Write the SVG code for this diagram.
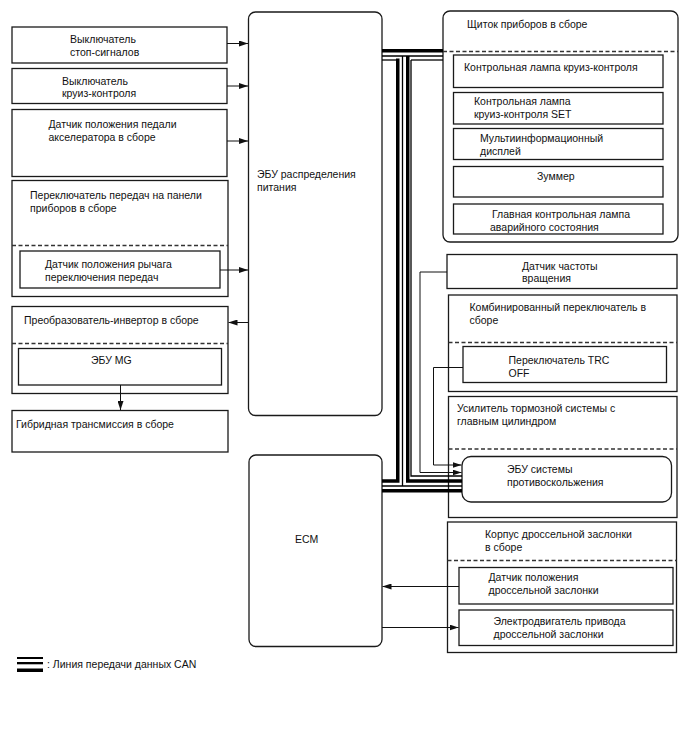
<svg xmlns="http://www.w3.org/2000/svg" width="688" height="755" viewBox="0 0 688 755">
<defs>
<marker id="ah" markerWidth="9" markerHeight="6" refX="9" refY="3" orient="auto" markerUnits="userSpaceOnUse">
<path d="M0,0 L9,3 L0,6 Z" fill="#111"/>
</marker>
<style>
.b{fill:#fff;stroke:#1a1a1a;stroke-width:1.3}
.d{fill:none;stroke:#333;stroke-width:1.3;stroke-dasharray:4 2.5}
.t{font-family:"Liberation Sans",Arial,sans-serif;font-size:10.5px;fill:#111}
.w{fill:none;stroke:#111;stroke-width:1}
.k{fill:none;stroke:#000;stroke-width:3.5}
.n{fill:none;stroke:#000;stroke-width:1.3}
</style>
</defs>
<rect width="688" height="755" fill="#fff"/>

<g id="stop-switch">
<rect class="b" x="12" y="27" width="215" height="36"/>
<text class="t" x="70" y="42.5">Выключатель</text>
<text class="t" x="70" y="55.5">стоп-сигналов</text>
</g>
<g id="cruise-switch">
<rect class="b" x="12" y="68.5" width="215" height="35"/>
<text class="t" x="62" y="84.5">Выключатель</text>
<text class="t" x="62" y="97">круиз-контроля</text>
</g>
<g id="accel-sensor">
<rect class="b" x="12" y="109.5" width="215" height="67"/>
<text class="t" x="48.5" y="127.5">Датчик положения педали</text>
<text class="t" x="48.5" y="140.5">акселератора в сборе</text>
</g>
<g id="shift-panel">
<rect class="b" x="12" y="180.5" width="216" height="116"/>
<text class="t" x="30" y="199">Переключатель передач на панели</text>
<text class="t" x="30" y="212">приборов в сборе</text>
<line class="d" x1="12" y1="245.5" x2="228" y2="245.5"/>
</g>
<g id="shift-sensor">
<rect class="b" x="20" y="251" width="200" height="37"/>
<text class="t" x="45" y="267.5">Датчик положения рычага</text>
<text class="t" x="45" y="280.5">переключения передач</text>
</g>
<g id="inverter">
<rect class="b" x="12" y="306.5" width="216" height="87"/>
<text class="t" x="24" y="324">Преобразователь-инвертор в сборе</text>
<line class="d" x1="12" y1="343.5" x2="228" y2="343.5"/>
</g>
<g id="mg-ecu">
<rect class="b" x="18.5" y="348.5" width="203" height="36.5"/>
<text class="t" x="91" y="364">ЭБУ MG</text>
</g>
<g id="hybrid-transmission">
<rect class="b" x="12" y="410.5" width="216" height="41.5"/>
<text class="t" x="16" y="427.5">Гибридная трансмиссия в сборе</text>
</g>

<g id="power-ecu">
<rect class="b" x="248.5" y="12" width="133.5" height="403.5" rx="7"/>
<text class="t" x="257" y="178">ЭБУ распределения</text>
<text class="t" x="257" y="191">питания</text>
</g>
<g id="ecm">
<rect class="b" x="249" y="455" width="133" height="191.5" rx="7"/>
<text class="t" x="295" y="543">ECM</text>
</g>

<g id="combination-meter">
<rect class="b" x="443" y="11" width="235" height="231" rx="7"/>
<text class="t" x="467" y="28">Щиток приборов в сборе</text>
<line class="d" x1="443" y1="51.5" x2="678" y2="51.5"/>
</g>
<g id="cruise-lamp">
<rect class="b" x="453.5" y="55" width="209.5" height="32.5"/>
<text class="t" x="464" y="71">Контрольная лампа круиз-контроля</text>
</g>
<g id="cruise-set-lamp">
<rect class="b" x="453.5" y="92.5" width="209.5" height="31.5"/>
<text class="t" x="474" y="105">Контрольная лампа</text>
<text class="t" x="474" y="118">круиз-контроля SET</text>
</g>
<g id="multi-display">
<rect class="b" x="453.5" y="128.5" width="209.5" height="31"/>
<text class="t" x="480" y="142">Мультиинформационный</text>
<text class="t" x="480" y="155">дисплей</text>
</g>
<g id="buzzer">
<rect class="b" x="453.5" y="166.5" width="209.5" height="30.5"/>
<text class="t" x="537" y="180">Зуммер</text>
</g>
<g id="master-warning">
<rect class="b" x="453.5" y="204" width="209.5" height="30"/>
<text class="t" x="492" y="217.5">Главная контрольная лампа</text>
<text class="t" x="490" y="230.5">аварийного состояния</text>
</g>

<g id="speed-sensor">
<rect class="b" x="447" y="254.5" width="230" height="34"/>
<text class="t" x="522" y="269.5">Датчик частоты</text>
<text class="t" x="522" y="282">вращения</text>
</g>
<g id="combination-switch">
<rect class="b" x="448.5" y="295" width="228.5" height="96.5"/>
<text class="t" x="469.5" y="311">Комбинированный переключатель в</text>
<text class="t" x="469.5" y="323.5">сборе</text>
<line class="d" x1="448.5" y1="342.5" x2="677" y2="342.5"/>
</g>
<g id="trc-off-switch">
<rect class="b" x="463" y="346.5" width="203.5" height="36"/>
<text class="t" x="508.5" y="363.5">Переключатель TRC</text>
<text class="t" x="508.5" y="376.5">OFF</text>
</g>
<g id="brake-booster">
<rect class="b" x="448.5" y="396.5" width="228.5" height="121"/>
<text class="t" x="457" y="412">Усилитель тормозной системы с</text>
<text class="t" x="457" y="425">главным цилиндром</text>
<line class="d" x1="448.5" y1="449" x2="677" y2="449"/>
</g>
<g id="skid-control-ecu">
<rect class="b" x="462" y="456.5" width="209.5" height="45.5" rx="9"/>
<text class="t" x="507" y="473">ЭБУ системы</text>
<text class="t" x="507" y="486">противоскольжения</text>
</g>

<g id="throttle-body">
<rect class="b" x="447.5" y="522" width="229" height="130.5"/>
<text class="t" x="485" y="537.5">Корпус дроссельной заслонки</text>
<text class="t" x="485" y="550.5">в сборе</text>
<line class="d" x1="447.5" y1="560.5" x2="676.5" y2="560.5"/>
</g>
<g id="throttle-sensor">
<rect class="b" x="459" y="567.5" width="214" height="36.5"/>
<text class="t" x="488.5" y="580.5">Датчик положения</text>
<text class="t" x="488.5" y="593.5">дроссельной заслонки</text>
</g>
<g id="throttle-motor">
<rect class="b" x="459" y="610" width="214" height="35.5"/>
<text class="t" x="493.5" y="625">Электродвигатель привода</text>
<text class="t" x="493.5" y="638">дроссельной заслонки</text>
</g>

<g id="connectors">
<line class="w" x1="227" y1="43.5" x2="248" y2="43.5" marker-end="url(#ah)"/>
<line class="w" x1="227" y1="86" x2="248" y2="86" marker-end="url(#ah)"/>
<line class="w" x1="227" y1="141" x2="248" y2="141" marker-end="url(#ah)"/>
<line class="w" x1="220" y1="270" x2="248" y2="270" marker-end="url(#ah)"/>
<line class="w" x1="248" y1="322.5" x2="228.5" y2="322.5" marker-end="url(#ah)"/>
<line class="w" x1="120.5" y1="385" x2="120.5" y2="410" marker-end="url(#ah)"/>
<polyline class="w" points="447,272 420,272 420,472.5 461.5,472.5" marker-end="url(#ah)"/>
<polyline class="w" points="463,367.5 433.5,367.5 433.5,465 461.5,465" marker-end="url(#ah)"/>
<line class="w" x1="459" y1="586.5" x2="382.5" y2="586.5" marker-end="url(#ah)"/>
<line class="w" x1="382" y1="627.5" x2="458.5" y2="627.5" marker-end="url(#ah)"/>
</g>

<g id="can-bus">
<line class="k" x1="382" y1="50.75" x2="443" y2="50.75"/>
<line class="n" x1="382" y1="56" x2="443" y2="56"/>
<polyline class="n" points="382,60 397.75,60"/>
<polyline class="n" points="411,60 443,60"/>
<polyline class="k" points="397.75,58.5 397.75,481 382,481"/>
<line class="n" x1="402.5" y1="56" x2="402.5" y2="486"/>
<polyline class="k" points="407.75,56 407.75,481 462,481"/>
<polyline class="n" points="411,60 411,476 462,476"/>
<line class="n" x1="382" y1="486" x2="462" y2="486"/>
<line class="k" x1="382" y1="490.75" x2="462" y2="490.75"/>
</g>

<g id="legend">
<rect x="17" y="657" width="26" height="2" fill="#000"/>
<rect x="17" y="662" width="26" height="2.3" fill="#000"/>
<rect x="17" y="668.5" width="26" height="3.5" fill="#000"/>
<text class="t" x="47" y="668">: Линия передачи данных CAN</text>
</g>
</svg>
